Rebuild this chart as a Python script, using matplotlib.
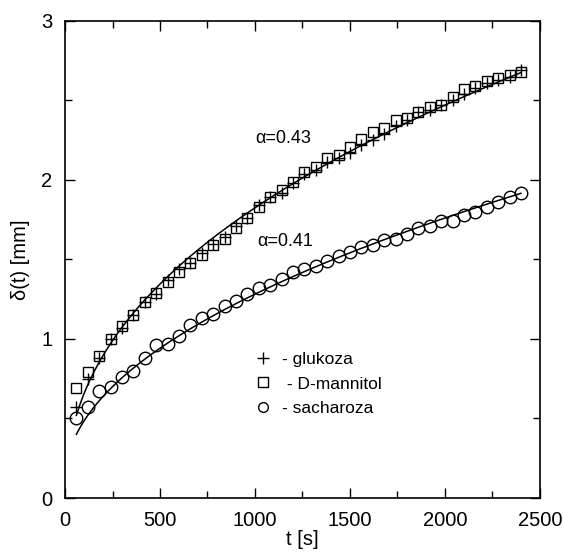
import numpy as np
import matplotlib
matplotlib.use("Agg")
import matplotlib.pyplot as plt
from matplotlib.lines import Line2D
from matplotlib.ticker import MultipleLocator

plt.rcParams['font.family'] = ['Liberation Sans', 'DejaVu Sans']

# time points [s]
t = np.arange(60, 2401, 60)

glukoza = [0.57, 0.75, 0.88, 1.00, 1.07, 1.15, 1.23, 1.28, 1.37, 1.44,
           1.48, 1.54, 1.60, 1.64, 1.71, 1.76, 1.84, 1.89, 1.92, 1.98,
           2.04, 2.06, 2.11, 2.14, 2.17, 2.22, 2.25, 2.29, 2.34, 2.38,
           2.43, 2.44, 2.47, 2.50, 2.54, 2.58, 2.61, 2.63, 2.65, 2.69]

mannitol = [0.69, 0.79, 0.89, 1.00, 1.08, 1.15, 1.23, 1.29, 1.36, 1.42,
            1.48, 1.53, 1.59, 1.63, 1.70, 1.76, 1.83, 1.89, 1.94, 1.99,
            2.05, 2.08, 2.14, 2.16, 2.21, 2.26, 2.30, 2.33, 2.38, 2.39,
            2.43, 2.46, 2.47, 2.52, 2.57, 2.59, 2.62, 2.64, 2.66, 2.68]

sacharoza = [0.50, 0.57, 0.67, 0.70, 0.76, 0.80, 0.88, 0.96, 0.97, 1.02,
             1.09, 1.13, 1.16, 1.21, 1.24, 1.28, 1.32, 1.34, 1.38, 1.42,
             1.44, 1.46, 1.49, 1.52, 1.55, 1.58, 1.59, 1.62, 1.63, 1.66,
             1.70, 1.71, 1.74, 1.74, 1.78, 1.80, 1.83, 1.86, 1.89, 1.92]

# fitted curves  delta = a * t**b + c
fit_upper = dict(a=0.0954, b=0.43, c=-0.035)
fit_lower = dict(a=0.039, b=0.493, c=0.107)
t_fit = np.linspace(60, 2400, 300)

fig = plt.figure(figsize=(5.63, 5.55), dpi=100)
ax = fig.add_axes([0.1155, 0.1027, 0.8435, 0.8595])

for p in (fit_upper, fit_lower):
    ax.plot(t_fit, p['a'] * t_fit ** p['b'] + p['c'], color='black', lw=1.1, zorder=2)

ax.plot(t, glukoza, linestyle='none', marker='+', ms=8, mew=1.0, color='black', zorder=3)
ax.plot(t, mannitol, linestyle='none', marker='s', ms=7.5, mew=1.0, mfc='none', mec='black', zorder=3)
ax.plot(t, sacharoza, linestyle='none', marker='o', ms=9, mew=1.0, mfc='none', mec='black', zorder=3)

ax.text(1000, 2.26, 'α=0.43', fontsize=13, ha='left', va='center')
ax.text(1010, 1.61, 'α=0.41', fontsize=13, ha='left', va='center')

handles = [Line2D([], [], linestyle='none', marker='+', ms=8, mew=1.0, color='black'),
           Line2D([], [], linestyle='none', marker='s', ms=7, mew=1.0, mfc='none', mec='black'),
           Line2D([], [], linestyle='none', marker='o', ms=7, mew=1.0, mfc='none', mec='black')]
labels = ['- glukoza', ' - D-mannitol', '- sacharoza']
ax.legend(handles, labels, loc='center left', bbox_to_anchor=(0.383, 0.239), frameon=False,
          fontsize=12.5, handlelength=1.0, handletextpad=0.6, labelspacing=0.55,
          borderaxespad=0)

ax.set_xlim(0, 2500)
ax.set_ylim(0, 3)
ax.xaxis.set_major_locator(MultipleLocator(500))
ax.xaxis.set_minor_locator(MultipleLocator(250))
ax.yaxis.set_major_locator(MultipleLocator(1))
ax.yaxis.set_minor_locator(MultipleLocator(0.5))
ax.tick_params(which='both', direction='in', top=True, right=True, labelsize=14.5, width=1.0)
ax.tick_params(which='major', length=7)
ax.tick_params(which='minor', length=5)
ax.tick_params(axis='x', which='major', pad=9)
ax.tick_params(axis='y', which='major', pad=9)
for s in ax.spines.values():
    s.set_linewidth(1.2)

ax.set_xlabel('t [s]', fontsize=14.5, labelpad=0)
ax.set_ylabel('δ(t) [mm]', fontsize=14.5, labelpad=8)

fig.savefig('out.png', dpi=100)
